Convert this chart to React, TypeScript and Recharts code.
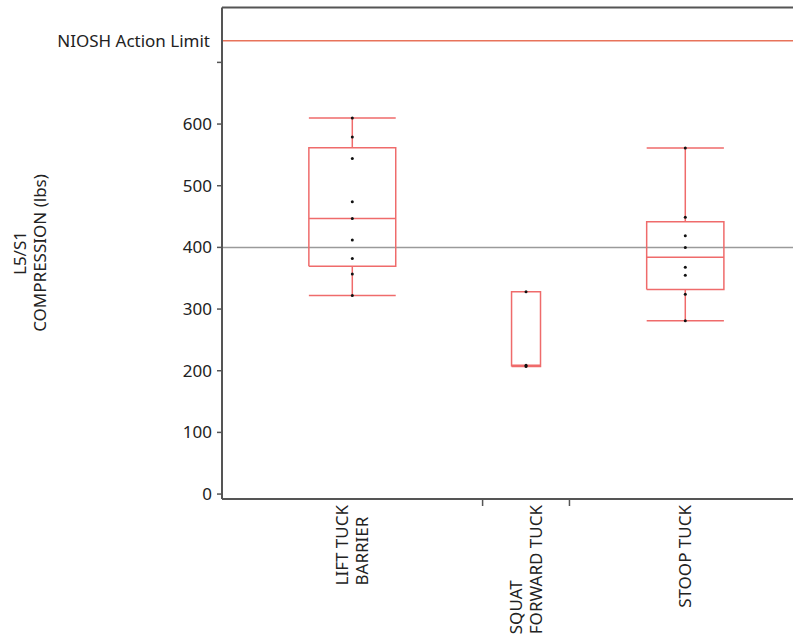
import React from "react";
import {
  ComposedChart,
  Line,
  Scatter,
  XAxis,
  YAxis,
  ReferenceLine,
} from "recharts";

// groups and their observations (lbs)
const categories = [["LIFT TUCK", "BARRIER"], ["SQUAT", "FORWARD TUCK"], ["STOOP TUCK"]];
const liftTuckBarrier = [610, 579, 544, 474, 447, 412, 382, 357, 322];
const squatForwardTuck = [328, 209, 207];
const stoopTuck = [561, 449, 419, 400, 368, 355, 324, 281];
const groups = [liftTuckBarrier, squatForwardTuck, stoopTuck];

const yTicks = [0, 100, 200, 300, 400, 500, 600, 700];
const nioshLimit = 735;
const refValue = 400;
const yMin = -8;
const yMax = 789;

const FONT = "'Noto Sans', 'Open Sans', sans-serif";
const BOX_RED = "#ef6b6b";
const AXIS = "#555";

// JMP style quantile: position (n+1)p on sorted values
const quantile = (vals: number[], p: number) => {
  const s = [...vals].sort((a, b) => a - b);
  const pos = (s.length + 1) * p;
  const lo = Math.min(Math.max(Math.floor(pos), 1), s.length);
  const hi = Math.min(lo + 1, s.length);
  const frac = pos - Math.floor(pos);
  return s[lo - 1] + (s[hi - 1] - s[lo - 1]) * (pos < 1 ? 0 : frac);
};

// category widths proportional to sample size
const bounds: number[] = [0];
groups.forEach((g) => bounds.push(bounds[bounds.length - 1] + g.length));
const centers = groups.map((g, i) => bounds[i] + g.length / 2);
const xMax = 19.72;

// box outline segments, separated by null breaks
const boxData: { x: number; y: number | null }[] = [];
const seg = (pts: [number, number][]) => {
  pts.forEach(([x, y]) => boxData.push({ x, y }));
  boxData.push({ x: pts[pts.length - 1][0], y: null });
};
groups.forEach((g, i) => {
  const c = centers[i];
  const hw = g.length / 6;
  const q1 = quantile(g, 0.25);
  const med = quantile(g, 0.5);
  const q3 = quantile(g, 0.75);
  const lo = Math.min(...g);
  const hi = Math.max(...g);
  seg([[c - hw, q1], [c - hw, q3], [c + hw, q3], [c + hw, q1], [c - hw, q1]]);
  seg([[c - hw, med], [c + hw, med]]);
  if (hi > q3) {
    seg([[c, q3], [c, hi]]);
    seg([[c - hw, hi], [c + hw, hi]]);
  }
  if (lo < q1) {
    seg([[c, q1], [c, lo]]);
    seg([[c - hw, lo], [c + hw, lo]]);
  }
});

const pointData = groups.flatMap((g, i) => g.map((v) => ({ x: centers[i], y: v })));

const measure = (s: string) => {
  const ctx = document.createElement("canvas").getContext("2d");
  if (!ctx) return s.length * 9;
  ctx.font = `17px 'Noto Sans'`;
  return ctx.measureText(s).width;
};

const XTick = (props: any) => {
  const { x, y, payload } = props;
  const v = payload.value;
  const axisY = y - 8;
  if (bounds.indexOf(v) >= 0) {
    return <line x1={x} x2={x} y1={axisY + 1} y2={axisY + 7} stroke={AXIS} strokeWidth={1.5} />;
  }
  const ci = centers.indexOf(v);
  if (ci < 0) return null;
  const lines = categories[ci];
  const maxW = Math.max(...lines.map(measure));
  const base = axisY + 6 + maxW;
  return (
    <g>
      {lines.map((t, k) => {
        const lx = x + (k - (lines.length - 1) / 2) * 20 + 6;
        return (
          <text
            key={t}
            x={lx}
            y={base}
            transform={`rotate(-90 ${lx} ${base})`}
            textAnchor="start"
            fontSize={17}
            fontFamily={FONT}
            fill="#222"
          >
            {t}
          </text>
        );
      })}
    </g>
  );
};

const YTitleBlock = () => (
  <g>
    <text
      x={26}
      y={253}
      transform="rotate(-90 26 253)"
      textAnchor="middle"
      fontSize={17}
      fontFamily={FONT}
      fill="#222"
    >
      L5/S1
    </text>
    <text
      x={46}
      y={253}
      transform="rotate(-90 46 253)"
      textAnchor="middle"
      fontSize={17}
      fontFamily={FONT}
      fill="#222"
    >
      COMPRESSION (lbs)
    </text>
  </g>
);

const Dot = (props: any) => {
  const { cx, cy } = props;
  return <circle cx={cx} cy={cy} r={1.5} fill="#111" />;
};

export default function App() {
  return (
    <div style={{ position: "absolute", left: 0, top: 0, background: "#fff" }}>
      <ComposedChart
        width={793}
        height={641}
        margin={{ top: 7.5, right: 0, bottom: 0, left: 0 }}
      >
        <XAxis
          dataKey="x"
          type="number"
          domain={[0, xMax]}
          ticks={[...bounds.slice(1, -1), ...centers].sort((a, b) => a - b)}
          tick={<XTick />}
          tickLine={false}
          interval={0}
          height={142}
          axisLine={{ stroke: AXIS, strokeWidth: 2 }}
          allowDataOverflow
        />
        <YAxis
          dataKey="y"
          type="number"
          domain={[yMin, yMax]}
          ticks={yTicks}
          interval={0}
          width={222}
          tickSize={5}
          tickMargin={5}
          tickFormatter={(v: number) => (v === 700 ? "" : String(v))}
          tick={{ fontSize: 17, fontFamily: FONT, fill: "#222" }}
          tickLine={{ stroke: AXIS, strokeWidth: 1.5 }}
          axisLine={{ stroke: AXIS, strokeWidth: 2 }}
          allowDataOverflow
          label={{ content: <YTitleBlock /> }}
        />
        {/* frame top edge */}
        <ReferenceLine y={yMax} stroke={AXIS} strokeWidth={2} ifOverflow="visible" />
        <ReferenceLine
          y={nioshLimit}
          stroke="#e8735a"
          strokeWidth={1.5}
          label={{
            value: "NIOSH Action Limit",
            position: "left",
            offset: 12,
            fontSize: 17,
            fontFamily: FONT,
            fill: "#222",
          }}
        />
        <ReferenceLine y={refValue} stroke="#9a9a9a" strokeWidth={1.5} />
        <Line
          data={boxData}
          dataKey="y"
          type="linear"
          stroke={BOX_RED}
          strokeWidth={1.5}
          dot={false}
          activeDot={false}
          connectNulls={false}
          isAnimationActive={false}
        />
        <Scatter
          data={pointData}
          dataKey="y"
          shape={<Dot />}
          isAnimationActive={false}
        />
      </ComposedChart>
    </div>
  );
}
